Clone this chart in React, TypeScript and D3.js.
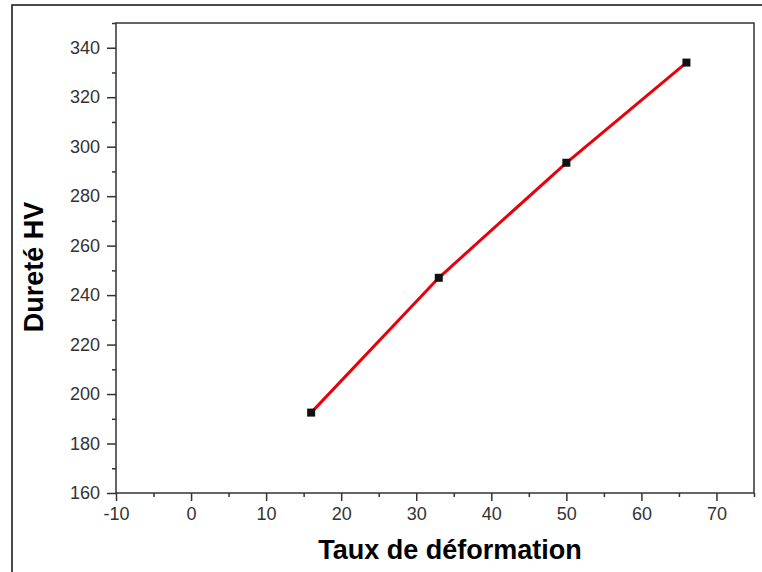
import React, { useEffect, useRef } from "react";
import * as d3 from "d3";

const strainValues = [16, 33, 50, 66];
const hardnessValues = [192.5, 247, 293.5, 334];
const xMajorTicks = [-10, 0, 10, 20, 30, 40, 50, 60, 70];
const xMinorTicks = [-5, 5, 15, 25, 35, 45, 55, 65, 75];
const yMajorTicks = [160, 180, 200, 220, 240, 260, 280, 300, 320, 340];
const yMinorTicks = [170, 190, 210, 230, 250, 270, 290, 310, 330, 350];
const xTitle = "Taux de déformation";
const yTitle = "Dureté HV";

const W = 762;
const H = 572;
const left = 116, right = 754, top = 23, bottom = 493;

export default function App() {
  const ref = useRef<SVGSVGElement | null>(null);

  useEffect(() => {
    const svg = d3.select(ref.current);
    svg.selectAll("*").remove();

    const x = d3.scaleLinear().domain([-10, 75]).range([left, right]);
    const y = d3.scaleLinear().domain([160, 350]).range([bottom, top]);
    const font = "'Liberation Sans', Arial, sans-serif";
    const fmt = (d: d3.NumberValue) => String(d);

    svg.append("rect").attr("width", W).attr("height", H).attr("fill", "#fff");
    // outer frame
    svg.append("path").attr("d", `M12,${H} L12,5 L${W},5`).attr("fill", "none").attr("stroke", "#111").attr("stroke-width", 1.5);

    // minor ticks
    const gxm = svg.append("g").attr("transform", `translate(0,${bottom})`)
      .call(d3.axisBottom(x).tickValues(xMinorTicks).tickSize(4).tickFormat(() => ""));
    const gym = svg.append("g").attr("transform", `translate(${left},0)`)
      .call(d3.axisLeft(y).tickValues(yMinorTicks).tickSize(4).tickFormat(() => ""));
    [gxm, gym].forEach((g) => { g.select(".domain").remove(); g.selectAll("line").attr("stroke", "#333").attr("stroke-width", 1.5); });

    // major axes
    const gx = svg.append("g").attr("transform", `translate(0,${bottom})`)
      .call(d3.axisBottom(x).tickValues(xMajorTicks).tickSize(8).tickPadding(6).tickFormat(fmt));
    const gy = svg.append("g").attr("transform", `translate(${left},0)`)
      .call(d3.axisLeft(y).tickValues(yMajorTicks).tickSize(9).tickPadding(7).tickFormat(fmt));
    [gx, gy].forEach((g) => {
      g.select(".domain").remove();
      g.selectAll("line").attr("stroke", "#333").attr("stroke-width", 1.5);
      g.selectAll("text").attr("fill", "#333").style("font-family", font).style("font-size", "18px");
    });

    // frame
    svg.append("rect").attr("x", left).attr("y", top).attr("width", right - left).attr("height", bottom - top)
      .attr("fill", "none").attr("stroke", "#333").attr("stroke-width", 1.5);

    const pts: [number, number][] = strainValues.map((s, i) => [s, hardnessValues[i]]);
    const line = d3.line<[number, number]>().x((d) => x(d[0])).y((d) => y(d[1]));
    svg.append("path").attr("d", line(pts)).attr("fill", "none").attr("stroke", "#e8000b").attr("stroke-width", 3);

    svg.selectAll("rect.pt").data(pts).enter().append("rect").attr("class", "pt")
      .attr("x", (d) => x(d[0]) - 4).attr("y", (d) => y(d[1]) - 4)
      .attr("width", 8).attr("height", 8).attr("fill", "#111");

    svg.append("text").attr("x", 450).attr("y", 559).attr("text-anchor", "middle")
      .style("font-family", font).style("font-size", "27px").style("font-weight", "bold").attr("fill", "#000")
      .text(xTitle);
    svg.append("text").attr("transform", `translate(43,267) rotate(-90)`).attr("text-anchor", "middle")
      .style("font-family", font).style("font-size", "27px").style("font-weight", "bold").attr("fill", "#000")
      .text(yTitle);
  }, []);

  return (
    <svg ref={ref} width={W} height={H} style={{ position: "absolute", left: 0, top: 0 }} />
  );
}
